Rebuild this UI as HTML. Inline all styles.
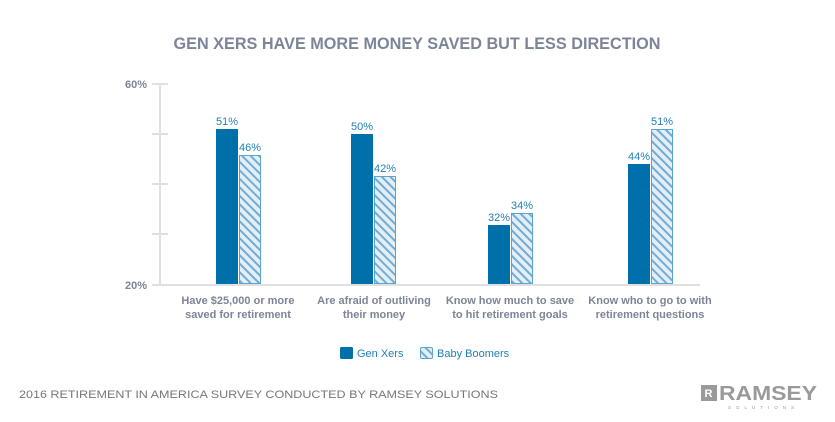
<!DOCTYPE html>
<html><head><style>
body{margin:0;background:#fff;}
svg text{font-family:"Liberation Sans",sans-serif;}
</style></head><body>
<svg width="835" height="417" viewBox="0 0 835 417" xmlns="http://www.w3.org/2000/svg">
<defs>
<pattern id="h" patternUnits="userSpaceOnUse" width="6" height="6" patternTransform="rotate(-45)">
<rect width="6" height="6" fill="#e3eef6"/>
<rect x="0" y="0" width="2" height="6" fill="#72acd4"/>
</pattern>
</defs>
<text x="417" y="49" text-anchor="middle" font-size="16.5" font-weight="bold" fill="#7c8597" textLength="487" lengthAdjust="spacingAndGlyphs">GEN XERS HAVE MORE MONEY SAVED BUT LESS DIRECTION</text>
<g stroke="#e0e0e0" stroke-width="2">
<line x1="160" y1="84" x2="160" y2="285"/>
<line x1="152" y1="84" x2="168" y2="84"/>
<line x1="152" y1="134" x2="168" y2="134"/>
<line x1="152" y1="184" x2="168" y2="184"/>
<line x1="152" y1="234" x2="168" y2="234"/>
<line x1="152" y1="285" x2="700" y2="285"/>
</g>
<text x="147" y="88" text-anchor="end" font-size="11" font-weight="bold" fill="#7c8597">60%</text>
<text x="147" y="289" text-anchor="end" font-size="11" font-weight="bold" fill="#7c8597">20%</text>
<g fill="#0070aa">
<rect x="216" y="129" width="22" height="155"/>
<rect x="351" y="134" width="22" height="150"/>
<rect x="488" y="225" width="22" height="59"/>
<rect x="628" y="164" width="22" height="120"/>
</g>
<g fill="url(#h)" stroke="#5da3d0" stroke-width="1">
<rect x="239.5" y="155.5" width="21" height="128"/>
<rect x="374.5" y="176.5" width="21" height="107"/>
<rect x="511.5" y="213.5" width="21" height="70"/>
<rect x="651.5" y="129.5" width="21" height="154"/>
</g>
<g font-size="11" fill="#1f7fba" text-anchor="middle">
<text x="227" y="125">51%</text><text x="250" y="151">46%</text>
<text x="362" y="130">50%</text><text x="385" y="172">42%</text>
<text x="499" y="221">32%</text><text x="522" y="209">34%</text>
<text x="639" y="160">44%</text><text x="662" y="125">51%</text>
</g>
<g font-size="11" font-weight="bold" fill="#7c8597" text-anchor="middle">
<text x="238" y="304">Have $25,000 or more</text><text x="238" y="318">saved for retirement</text>
<text x="374" y="304">Are afraid of outliving</text><text x="374" y="318">their money</text>
<text x="510" y="304">Know how much to save</text><text x="510" y="318">to hit retirement goals</text>
<text x="650" y="304">Know who to go to with</text><text x="650" y="318">retirement questions</text>
</g>
<rect x="340" y="347" width="13" height="12" rx="1.5" fill="#0070aa"/>
<text x="357" y="357" font-size="11" fill="#1f7fba">Gen Xers</text>
<rect x="420.5" y="347.5" width="12" height="11" rx="1.5" fill="url(#h)" stroke="#5da3d0"/>
<text x="437" y="357" font-size="11" fill="#1f7fba">Baby Boomers</text>
<text x="19" y="398" font-size="11" fill="#777" textLength="479" lengthAdjust="spacingAndGlyphs">2016 RETIREMENT IN AMERICA SURVEY CONDUCTED BY RAMSEY SOLUTIONS</text>
<rect x="701" y="385" width="16" height="16" fill="#9a9a9a"/>
<text x="704.5" y="397" font-size="11" font-weight="bold" fill="#fff">R</text>
<text x="719" y="400" font-size="20" font-weight="bold" fill="#9a9a9a" textLength="98" lengthAdjust="spacingAndGlyphs">RAMSEY</text>
<text x="728" y="409" font-size="4.5" fill="#9a9a9a" letter-spacing="5">SOLUTIONS</text>
</svg>
</body></html>
